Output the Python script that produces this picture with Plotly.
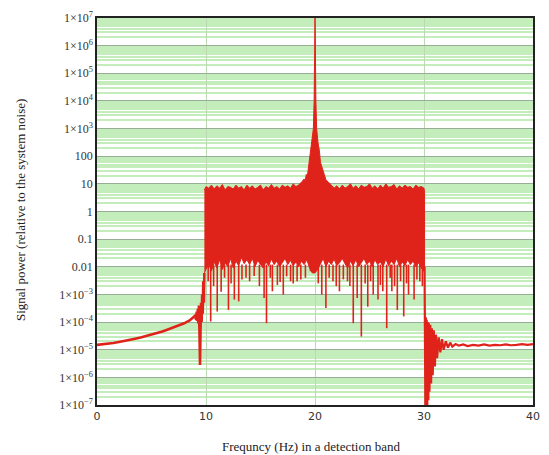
import plotly.graph_objects as go

# ---------------- data ----------------
# baseline below the detection band
base_x = [0, 0.5, 1, 1.5, 2, 2.5, 3, 3.5, 4, 4.5, 5, 5.5, 6, 6.5, 7, 7.5, 8, 8.5, 8.8,
          9.0, 9.1, 9.15, 9.2, 9.25, 9.3, 9.35, 9.4, 9.45, 9.5, 9.55, 9.6, 9.65, 9.7, 9.75, 9.8, 9.85]
base_y = [1.5e-5, 1.55e-5, 1.65e-5, 1.75e-5, 1.9e-5, 2.05e-5, 2.25e-5, 2.5e-5, 2.75e-5, 3.1e-5,
          3.5e-5, 4.0e-5, 4.6e-5, 5.4e-5, 6.3e-5, 7.5e-5, 9.0e-5, 1.15e-4, 1.4e-4,
          1.7e-4, 1.2e-4, 2.4e-4, 1.1e-4, 3.0e-4, 9.0e-5, 4.0e-4, 5.0e-5, 2.8e-6, 6.0e-5, 5.0e-4,
          1.0e-4, 1.0e-3, 2.0e-4, 3.0e-3, 5.0e-4, 6.0e-3]

# upper envelope of the band (including the carrier peak at 20 Hz)
band_up_x = [9.85, 10.0, 10.25, 10.5, 10.75, 11.0, 11.25, 11.5, 11.75, 12.0, 12.25, 12.5, 12.75,
             13.0, 13.25, 13.5, 13.75, 14.0, 14.25, 14.5, 14.75, 15.0, 15.25, 15.5, 15.75, 16.0,
             16.25, 16.5, 16.75, 17.0, 17.25, 17.5, 17.75, 18.0, 18.25, 18.5, 18.8, 19.0, 19.1,
             19.2, 19.3, 19.4, 19.5, 19.6, 19.72, 19.85, 19.92, 19.97, 20.0, 20.03, 20.08, 20.15,
             20.28, 20.4, 20.5, 20.6, 20.7, 20.85, 21.0, 21.2, 21.5,
             21.75, 22.0, 22.25, 22.5, 22.75, 23.0, 23.25, 23.5, 23.75, 24.0, 24.25, 24.5, 24.75,
             25.0, 25.25, 25.5, 25.75, 26.0, 26.25, 26.5, 26.75, 27.0, 27.25, 27.5, 27.75, 28.0,
             28.25, 28.5, 28.75, 29.0, 29.25, 29.5, 29.75, 30.0, 30.05]
band_up_y = [6, 8, 7, 9, 6.5, 8.5, 7, 9.5, 6, 8, 7.5, 6.5, 9,
             7, 8, 6, 9, 7, 8.5, 6.5, 7.5, 9, 6, 8, 7, 9.5,
             7, 8, 6.5, 9, 7.5, 8.5, 7, 10, 8, 9, 12, 15, 13,
             22, 19, 40, 55, 160, 300, 1000, 1e4, 1e6, 1e7, 1e6, 1e4, 1000,
             300, 160, 60, 42, 30, 22, 14, 12, 9,
             7, 8.5, 6.5, 9, 7, 8, 10, 7, 8.5, 6.5, 9, 7.5, 8,
             10, 7, 8.5, 6.5, 9, 7, 10, 7.5, 8, 9.5, 6.5, 8.5, 7,
             9, 7.5, 8, 6.5, 9, 7.5, 8, 7, 5]

# lower envelope of the solid band
band_lo_x = [9.85, 10.0, 10.25, 10.5, 10.75, 11.0, 11.25, 11.5, 11.75, 12.0, 12.25, 12.5, 12.75,
             13.0, 13.25, 13.5, 13.75, 14.0, 14.25, 14.5, 14.75, 15.0, 15.25, 15.5, 15.75, 16.0,
             16.25, 16.5, 16.75, 17.0, 17.25, 17.5, 17.75, 18.0, 18.25, 18.5, 18.75, 19.0, 19.25,
             19.5, 19.75, 20.0, 20.25, 20.5, 20.75, 21.0, 21.25, 21.5, 21.75, 22.0, 22.25, 22.5,
             22.75, 23.0, 23.25, 23.5, 23.75, 24.0, 24.25, 24.5, 24.75, 25.0, 25.25, 25.5, 25.75,
             26.0, 26.25, 26.5, 26.75, 27.0, 27.25, 27.5, 27.75, 28.0, 28.25, 28.5, 28.75, 29.0,
             29.25, 29.5, 29.75, 30.0, 30.05]
band_lo_y = [0.006, 0.008, 0.012, 0.007, 0.015, 0.009, 0.018, 0.008, 0.014, 0.010, 0.020, 0.009, 0.016,
             0.011, 0.022, 0.013, 0.018, 0.012, 0.020, 0.010, 0.017, 0.012, 0.009, 0.015, 0.011, 0.019,
             0.012, 0.016, 0.010, 0.014, 0.020, 0.012, 0.017, 0.011, 0.015, 0.010, 0.016, 0.012, 0.018,
             0.009, 0.006, 0.006, 0.008, 0.012, 0.020, 0.010, 0.016, 0.012, 0.019, 0.011, 0.014, 0.020,
             0.013, 0.009, 0.016, 0.011, 0.018, 0.010, 0.014, 0.020, 0.012, 0.016, 0.010, 0.018, 0.012,
             0.015, 0.010, 0.019, 0.011, 0.016, 0.012, 0.020, 0.010, 0.015, 0.011, 0.018, 0.012, 0.016,
             0.010, 0.014, 0.009, 0.007, 0.006]

# downward spikes below the band
spike_x = [10.2, 10.43, 10.7, 11.03, 11.39, 11.7, 12.06, 12.3, 12.6, 13.0, 13.3, 13.67, 14.0, 14.42,
           14.9, 15.33, 15.55, 15.9, 16.09, 16.55, 16.8, 17.09, 17.4, 17.76, 18.0, 18.36, 18.7,
           19.12, 19.58, 20.3, 20.62, 21.0, 21.3, 21.65, 21.95, 22.24, 22.6, 22.98, 23.2, 23.51,
           23.87, 24.25, 24.6, 24.84, 25.1, 25.34, 25.78, 26.0, 26.22, 26.58, 26.9, 27.05, 27.3,
           27.55, 27.85, 28.14, 28.4, 28.58, 29.09, 29.35, 29.62, 29.85]
spike_y = [3e-3, 1.05e-4, 2e-3, 2.4e-4, 1.26e-3, 4e-3, 2.75e-4, 2.5e-3, 6.5e-4, 5.6e-4, 3.5e-3, 4e-3,
           3e-3, 4.6e-3, 2e-3, 7.4e-4, 9.1e-5, 4e-3, 1.3e-3, 2.2e-3, 2.8e-3, 9.8e-4, 4.5e-3, 3e-3,
           2.5e-3, 3e-3, 3.5e-3, 4e-3, 6.9e-3, 2.5e-3, 9.8e-4, 3.2e-4, 4e-3, 3e-3, 2e-3, 1.3e-3,
           3.5e-3, 3e-3, 2e-3, 9.1e-5, 7.4e-4, 3e-5, 2.5e-3, 3.6e-4, 3e-3, 9.8e-4, 6.5e-4, 2.2e-3,
           1.3e-3, 6e-5, 4e-3, 1.3e-3, 2e-3, 2.75e-4, 3e-3, 1.6e-4, 2.5e-3, 9.8e-4, 6.5e-4, 3.5e-3,
           3e-3, 2e-3]
spike_top = 0.012

# tail above the detection band
tail_x = [30.05, 30.1, 30.13, 30.17, 30.2, 30.25, 30.3, 30.35, 30.4, 30.45, 30.5, 30.58, 30.65,
          30.72, 30.8, 30.9, 31.0, 31.1, 31.2, 31.35, 31.5, 31.65, 31.8, 32.0, 32.2, 32.4, 32.6,
          32.9, 33.2, 33.6, 34.0, 34.5, 35.0, 35.5, 36.0, 36.5, 37.0, 37.5, 38.0, 38.5, 39.0,
          39.5, 40.0]
tail_y = [1e-2, 1e-4, 5e-8, 1.5e-4, 6e-8, 1.2e-4, 8e-8, 1e-4, 1.5e-7, 9e-5, 3e-7, 8e-5, 6e-7,
          6e-5, 1.2e-6, 5e-5, 2.5e-6, 3.5e-5, 5e-6, 2.8e-5, 8e-6, 2.4e-5, 1e-5, 2e-5, 1.2e-5,
          1.8e-5, 1.3e-5, 1.6e-5, 1.4e-5, 1.55e-5, 1.35e-5, 1.5e-5, 1.4e-5, 1.55e-5, 1.4e-5,
          1.5e-5, 1.45e-5, 1.55e-5, 1.45e-5, 1.5e-5, 1.6e-5, 1.5e-5, 1.6e-5]

y_exps = list(range(-7, 8))
y_ticktext = ["1×10<sup>−7</sup>", "1×10<sup>−6</sup>", "1×10<sup>−5</sup>", "1×10<sup>−4</sup>",
              "1×10<sup>−3</sup>", "0.01", "0.1", "1", "10", "100",
              "1×10<sup>3</sup>", "1×10<sup>4</sup>", "1×10<sup>5</sup>", "1×10<sup>6</sup>",
              "1×10<sup>7</sup>"]
x_ticks = [0, 10, 20, 30, 40]

RED = "#e0231a"
fig = go.Figure()

# band polygon
poly_x = band_up_x + band_lo_x[::-1]
poly_y = band_up_y + band_lo_y[::-1]
fig.add_trace(go.Scatter(x=poly_x, y=poly_y, mode="lines", fill="toself", fillcolor=RED,
                         line=dict(color=RED, width=1), hoverinfo="skip", showlegend=False))

# spikes
sx, sy = [], []
for x, y in zip(spike_x, spike_y):
    sx += [x, x, None]
    sy += [spike_top, y, None]
fig.add_trace(go.Scatter(x=sx, y=sy, mode="lines", line=dict(color=RED, width=1.6),
                         hoverinfo="skip", showlegend=False))

fig.add_trace(go.Scatter(x=base_x, y=base_y, mode="lines", line=dict(color=RED, width=2.6),
                         showlegend=False))
fig.add_trace(go.Scatter(x=tail_x, y=tail_y, mode="lines", line=dict(color=RED, width=2.2),
                         showlegend=False))

minor_vals = [k * 10.0 ** e for e in range(-7, 7) for k in range(2, 10)]

fig.update_layout(
    width=549, height=455,
    margin=dict(l=97, r=9, t=18, b=50),
    paper_bgcolor="white", plot_bgcolor="white",
    font=dict(family="Liberation Serif", size=12, color="#222"),
    xaxis=dict(range=[0, 40], tickvals=x_ticks, showgrid=True, gridcolor="#bcd9b4", gridwidth=1,
               zeroline=False, showline=True, linecolor="#222", linewidth=1.5, mirror=True,
               ticks="", tickfont=dict(family="DejaVu Sans", size=11, color="#333")),
    yaxis=dict(type="log", range=[-7, 7], tickvals=[10.0 ** e for e in y_exps], ticktext=y_ticktext,
               showgrid=True, gridcolor="#98ad96", gridwidth=1, zeroline=False, showline=True,
               linecolor="#222", linewidth=1.5, mirror=True, ticks="",
               tickfont=dict(family="Liberation Serif", size=12, color="#333"),
               minor=dict(tickmode="array", tickvals=minor_vals, showgrid=True,
                          gridcolor="#c3edbb", gridwidth=1.6, ticks="")),
    annotations=[
        dict(text="Frequncy (Hz) in a detection band", xref="paper", yref="paper", x=0.49, y=-0.106,
             showarrow=False, xanchor="center", yanchor="middle",
             font=dict(family="Liberation Serif", size=13, color="#222")),
        dict(text="Signal power (relative to the system noise)", xref="paper", yref="paper",
             x=-0.174, y=0.504, textangle=-90, showarrow=False, xanchor="center", yanchor="middle",
             font=dict(family="Liberation Serif", size=13, color="#222")),
    ],
)

fig.write_html("out.html", config={"displayModeBar": False},
               post_script="document.body.style.margin='0';document.body.style.overflow='hidden';")
